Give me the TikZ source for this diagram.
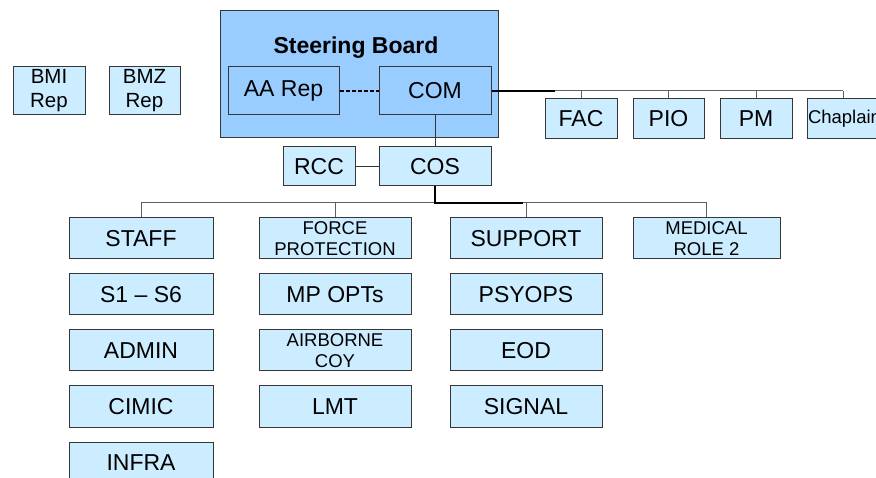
\documentclass[tikz,border=0pt]{standalone}
\usepackage{fontspec}
\setmainfont{Liberation Sans}
\definecolor{lb}{RGB}{204,236,255}
\definecolor{mb}{RGB}{153,204,255}
\definecolor{bd}{RGB}{55,55,55}
\definecolor{ln}{RGB}{95,95,95}
\begin{document}
\begin{tikzpicture}[x=1pt,y=-1pt,
  box/.style={draw=bd, line width=1pt, fill=lb, inner sep=0pt, align=center,
    minimum height=41pt, font=\fontsize{23}{24}\selectfont},
  colbox/.style={box, minimum width=#1},
  conn/.style={draw=ln, line width=1pt},
  trunk/.style={draw=black, line width=1.8pt},
]
\clip (0,0) rectangle (876,478);
\useasboundingbox (0,0) rectangle (876,478);
% steering board
\node[draw=bd, line width=1pt, fill=mb, minimum width=278pt, minimum height=127pt, inner sep=0pt] (sb) at (359,74.5) {};
\node[font=\fontsize{23}{24}\selectfont\bfseries] (sbt) at (356,48) {Steering Board};
\node[box, fill=mb, minimum width=111pt, minimum height=48pt] (aa) at (283.5,91) {AA Rep};
\node[box, fill=mb, minimum width=112pt, minimum height=48pt] (com) at (435,91) {COM};
% reps
\node[box, minimum width=72pt, minimum height=48pt, font=\fontsize{20.5}{24}\selectfont] (bmi) at (49,91) {BMI\\Rep};
\node[box, minimum width=71pt, minimum height=48pt, font=\fontsize{20.5}{24}\selectfont] (bmz) at (144.5,91) {BMZ\\Rep};
% COS / RCC
\node[box, minimum width=72pt, minimum height=39pt] (rcc) at (319,166.5) {RCC};
\node[box, minimum width=112pt, minimum height=39pt] (cos) at (435,166.5) {COS};
% staff group right of COM
\node[box, minimum width=72pt, minimum height=40pt] (fac) at (581,119) {FAC};
\node[box, minimum width=71pt, minimum height=40pt] (pio) at (668.5,119) {PIO};
\node[box, minimum width=72pt, minimum height=40pt] (pm) at (756,119) {PM};
\node[box, minimum width=72pt, minimum height=40pt, font=\fontsize{18.5}{20}\selectfont, text width=72pt, align=left] (chap) at (843,119) {\hspace*{1pt}\mbox{Chaplain}};
% columns
\node[colbox=144pt] (staff) at (141,238.5) {STAFF};
\node[colbox=144pt] (s16) at (141,294.5) {S1 – S6};
\node[colbox=144pt] (admin) at (141,350.5) {ADMIN};
\node[colbox=144pt] (cimic) at (141,406.5) {CIMIC};
\node[colbox=144pt] (infra) at (141,462.5) {INFRA};
\node[colbox=152pt, font=\fontsize{18.5}{21}\selectfont] (fp) at (335,238.5) {FORCE\\PROTECTION};
\node[colbox=152pt] (mp) at (335,294.5) {MP OPTs};
\node[colbox=152pt, font=\fontsize{18.5}{21}\selectfont] (air) at (335,350.5) {AIRBORNE\\COY};
\node[colbox=152pt] (lmt) at (335,406.5) {LMT};
\node[colbox=152pt] (sup) at (526,238.5) {SUPPORT};
\node[colbox=152pt] (psy) at (526,294.5) {PSYOPS};
\node[colbox=152pt] (eod) at (526,350.5) {EOD};
\node[colbox=152pt] (sig) at (526,406.5) {SIGNAL};
\node[colbox=147pt, font=\fontsize{18.5}{21}\selectfont] (med) at (706.5,238.5) {MEDICAL\\ROLE 2};
% connectors
\draw[black, line width=1.2pt, dash pattern=on 4pt off 2pt] (aa.east) -- (com.west);
\draw[conn, draw=black!80] (com.south) -- (cos.north);
\draw[conn, draw=black!80] (rcc.east) -- (cos.west);
\coordinate (hr) at (843,91);
\coordinate (tk1) at (555,91);
\draw[conn] (com.east) -- (hr);
\draw[conn] (fac.north |- hr) -- (fac.north);
\draw[conn] (pio.north |- hr) -- (pio.north);
\draw[conn] (pm.north |- hr) -- (pm.north);
\draw[conn] (chap.north |- hr) -- (chap.north);
\draw[trunk] (com.east) -- (tk1);
\coordinate (hy) at (435,203);
\coordinate (tk2) at (523,203);
\draw[conn] (staff.north |- hy) -- (med.north |- hy);
\draw[conn] (staff.north |- hy) -- (staff.north);
\draw[conn] (fp.north |- hy) -- (fp.north);
\draw[conn] (sup.north |- hy) -- (sup.north);
\draw[conn] (med.north |- hy) -- (med.north);
\draw[trunk] (cos.south) -- (hy) -- (tk2);
\end{tikzpicture}
\end{document}
